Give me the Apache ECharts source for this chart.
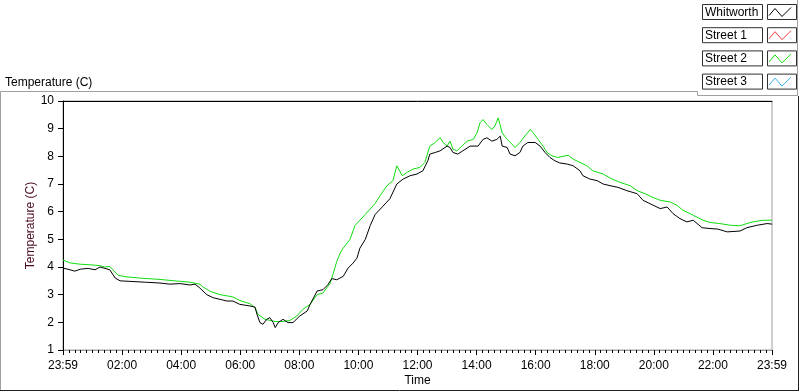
<!DOCTYPE html>
<html>
<head>
<meta charset="utf-8">
<script src="https://cdn.jsdelivr.net/npm/echarts@6/dist/echarts.min.js"></script>
<style>
html,body{margin:0;padding:0;background:#fff;}
#chart{width:800px;height:392px;}
</style>
</head>
<body>
<div id="chart"></div>
<script>
// ---- data ----
const xTickLabels = ['23:59','02:00','04:00','06:00','08:00','10:00','12:00','14:00','16:00','18:00','20:00','22:00','23:59'];
const seriesNames = ['Whitworth','Street 1','Street 2','Street 3'];
const seriesColors = ['#000000','#f03c3c','#10dd10','#3cb4f0'];

// minutes since start (23:59) and temperature (C)
const whitworthMinutes = [0,10,24,35,51,65,75,85,95,106,116,136,167,197,217,238,258,268,278,292,305,319,333,345,359,380,390,394,400,406,414,420,427,431,437,447,457,467,481,496,502,516,528,538,546,556,569,579,589,597,603,614,624,634,650,664,678,691,705,719,731,741,745,756,766,780,786,792,802,812,827,843,853,861,871,881,888,892,902,908,918,928,934,944,959,969,979,989,999,1009,1024,1036,1050,1056,1070,1085,1097,1111,1127,1145,1166,1178,1192,1213,1227,1239,1253,1267,1280,1298,1314,1330,1349,1375,1389,1410,1430,1440];
const whitworthTemps = [3.96,3.92,3.85,3.92,3.95,3.90,4.00,3.95,3.90,3.60,3.50,3.48,3.45,3.42,3.38,3.40,3.35,3.38,3.24,3.00,2.89,2.83,2.77,2.77,2.65,2.59,2.55,2.29,1.99,1.93,2.11,2.17,1.99,1.81,1.99,2.11,1.99,1.99,2.23,2.41,2.65,3.13,3.18,3.36,3.58,3.54,3.66,3.96,4.14,4.32,4.68,5.00,5.50,5.90,6.20,6.47,7.00,7.18,7.30,7.36,7.48,7.84,8.08,8.14,8.20,8.37,8.32,8.14,8.08,8.20,8.37,8.37,8.61,8.67,8.55,8.61,8.73,8.37,8.32,8.08,8.02,8.14,8.37,8.50,8.50,8.37,8.14,7.96,7.84,7.76,7.72,7.66,7.48,7.30,7.18,7.12,7.00,6.94,6.88,6.76,6.65,6.41,6.29,6.11,6.17,5.93,5.75,5.63,5.69,5.42,5.39,5.37,5.27,5.30,5.42,5.51,5.57,5.55];

const street1Minutes = [];
const street1Temps = [];

const street2Minutes = [0,14,35,55,75,85,95,112,126,156,197,227,258,278,284,299,319,345,359,380,390,396,410,431,447,461,475,487,502,516,528,542,548,556,563,569,583,593,614,634,644,658,670,678,689,699,711,725,735,745,756,766,772,780,786,792,800,810,821,833,841,847,853,861,871,877,884,892,902,912,918,928,938,949,955,965,975,983,993,1005,1026,1036,1050,1064,1076,1097,1115,1131,1152,1166,1182,1196,1213,1233,1247,1259,1280,1300,1314,1334,1355,1375,1389,1401,1422,1440];
const street2Temps = [4.25,4.15,4.10,4.08,4.05,4.00,4.02,3.70,3.65,3.60,3.55,3.50,3.45,3.38,3.28,3.12,3.00,2.92,2.79,2.67,2.53,2.29,2.11,2.03,2.03,2.07,2.23,2.47,2.65,3.00,3.06,3.39,3.72,4.20,4.50,4.68,5.00,5.50,5.90,6.30,6.58,6.94,7.12,7.66,7.30,7.42,7.54,7.60,7.78,8.37,8.50,8.68,8.50,8.37,8.55,8.26,8.20,8.37,8.55,8.61,8.85,9.21,9.33,9.15,8.97,9.09,9.39,8.85,8.61,8.44,8.32,8.50,8.73,8.97,8.85,8.61,8.37,8.14,8.02,7.96,8.04,7.90,7.78,7.66,7.48,7.36,7.18,7.06,6.94,6.76,6.65,6.53,6.41,6.35,6.23,6.05,5.87,5.69,5.61,5.57,5.51,5.49,5.57,5.63,5.69,5.69];

const street3Minutes = [];
const street3Temps = [];

// ---- build ----
const FONT = 'Liberation Sans';
function pairs(xs, ys){ return xs.map((x,i)=>[x, ys[i]]); }
const seriesData = [
  pairs(whitworthMinutes, whitworthTemps),
  pairs(street1Minutes, street1Temps),
  pairs(street2Minutes, street2Temps),
  pairs(street3Minutes, street3Temps)
];

const legendGraphics = [];
seriesNames.forEach((name, i) => {
  const top = 4.5 + i * 23.2;
  legendGraphics.push({
    type: 'rect', silent: true,
    shape: {x: 702.5, y: top, width: 60, height: 15},
    style: {fill: '#fff', stroke: '#303030', lineWidth: 1}
  });
  legendGraphics.push({
    type: 'text', silent: true,
    style: {x: 705, y: top + 8, text: name, fill: '#000', font: '12px "' + FONT + '"', verticalAlign: 'middle', align: 'left'}
  });
  legendGraphics.push({
    type: 'rect', silent: true,
    shape: {x: 767.5, y: top, width: 29, height: 15},
    style: {fill: '#fff', stroke: '#303030', lineWidth: 1}
  });
  legendGraphics.push({
    type: 'polyline', silent: true,
    shape: {points: [[769, top + 11], [775, top + 4], [782, top + 12], [791, top + 3]]},
    style: {stroke: seriesColors[i], lineWidth: 1, fill: null}
  });
});

const frameGraphics = [
  {type:'polyline', silent:true, shape:{points:[[0.5,391],[0.5,91.5],[697.5,91.5],[697.5,95.5],[797.5,95.5]]}, style:{stroke:'#a0a0a0', lineWidth:1, fill:null}},
  {type:'line', silent:true, shape:{x1:797.5,y1:0,x2:797.5,y2:96}, style:{stroke:'#a0a0a0', lineWidth:1}},
  {type:'line', silent:true, shape:{x1:798.5,y1:96,x2:798.5,y2:391}, style:{stroke:'#202020', lineWidth:1}},
  {type:'line', silent:true, shape:{x1:0,y1:390.5,x2:799,y2:390.5}, style:{stroke:'#202020', lineWidth:1}}
];

const chart = echarts.init(document.getElementById('chart'), null, {renderer: 'canvas'});
chart.setOption({
  animation: false,
  backgroundColor: '#ffffff',
  textStyle: {fontFamily: FONT},
  title: {
    text: 'Temperature (C)', left: 5, top: 77, padding: 0,
    textStyle: {fontSize: 12, fontWeight: 'normal', color: '#000', fontFamily: FONT}
  },
  grid: {left: 63, top: 101, width: 709, height: 251.5, show: true, borderColor: '#a0a0a0', borderWidth: 1, backgroundColor: '#fff'},
  xAxis: [{
    type: 'value', min: 0, max: 1440, interval: 120, position: 'bottom',
    name: 'Time', nameLocation: 'middle', nameGap: 25, nameMoveOverlap: false,
    nameTextStyle: {fontSize: 12, color: '#000', fontFamily: FONT},
    axisLine: {show: true, lineStyle: {color: '#a0a0a0', width: 1}},
    axisTick: {show: true, length: 5, lineStyle: {color: '#000', width: 1}},
    minorTick: {show: true, splitNumber: 10, length: 3, lineStyle: {color: '#000', width: 1}},
    splitLine: {show: false},
    axisLabel: {margin: 10, fontSize: 12, color: '#000', fontFamily: FONT, showMinLabel: true, showMaxLabel: true,
      formatter: v => xTickLabels[Math.round(v / 120)] || ''}
  }, {
    type: 'value', min: 0, max: 1440, position: 'top',
    axisLine: {show: true, lineStyle: {color: '#000', width: 1}},
    axisTick: {show: false}, axisLabel: {show: false}, splitLine: {show: false}
  }],
  yAxis: {
    type: 'value', min: 1, max: 10, interval: 1,
    name: 'Temperature (C)', nameLocation: 'middle', nameGap: 26, nameRotate: 90, nameMoveOverlap: false,
    nameTextStyle: {fontSize: 12, color: '#4a0a1e', fontFamily: FONT},
    axisLine: {show: true, lineStyle: {color: '#000', width: 1}},
    axisTick: {show: true, length: 5, lineStyle: {color: '#000'}},
    splitLine: {show: false},
    axisLabel: {margin: 9, fontSize: 12, color: '#000', fontFamily: FONT}
  },
  series: seriesNames.map((name, i) => ({
    name: name, type: 'line', data: seriesData[i], xAxisIndex: 0,
    showSymbol: false, symbol: 'none',
    lineStyle: {color: seriesColors[i], width: 1},
    itemStyle: {color: seriesColors[i]},
    z: i === 0 ? 3 : 2
  })),
  graphic: frameGraphics.concat(legendGraphics)
});
</script>
</body>
</html>
